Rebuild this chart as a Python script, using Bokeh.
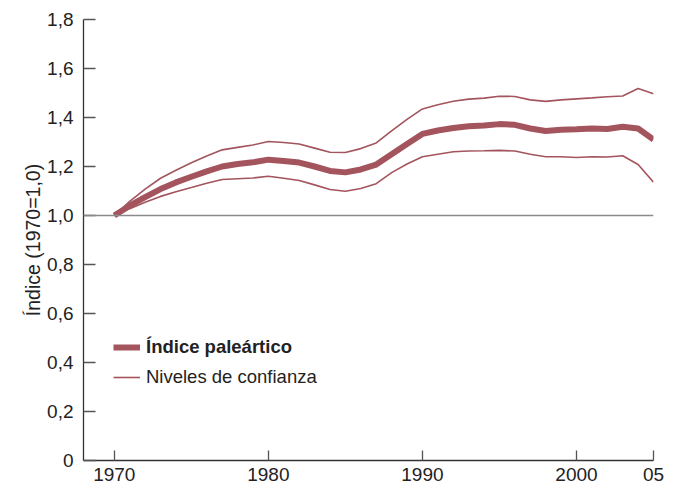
from bokeh.plotting import figure
from bokeh.models import ColumnDataSource, Legend, LegendItem, Span, FixedTicker, Range1d
from bokeh.embed import file_html
from bokeh.resources import INLINE

years = list(range(1970, 2006))
indice = [1.000, 1.040, 1.075, 1.108, 1.135, 1.158, 1.180, 1.200, 1.210, 1.217,
          1.228, 1.222, 1.216, 1.200, 1.182, 1.176, 1.188, 1.208, 1.250, 1.292,
          1.333, 1.347, 1.357, 1.364, 1.367, 1.373, 1.370, 1.355, 1.345, 1.350,
          1.352, 1.355, 1.353, 1.362, 1.355, 1.310]
superior = [1.000, 1.058, 1.108, 1.152, 1.185, 1.215, 1.243, 1.268, 1.278, 1.288,
            1.302, 1.298, 1.292, 1.275, 1.258, 1.257, 1.273, 1.296, 1.345, 1.392,
            1.435, 1.452, 1.466, 1.475, 1.479, 1.487, 1.486, 1.472, 1.466, 1.472,
            1.476, 1.480, 1.485, 1.488, 1.518, 1.497]
inferior = [1.000, 1.028, 1.054, 1.078, 1.097, 1.114, 1.132, 1.147, 1.150, 1.153,
            1.160, 1.152, 1.143, 1.125, 1.106, 1.099, 1.110, 1.130, 1.175, 1.210,
            1.240, 1.250, 1.260, 1.263, 1.264, 1.266, 1.263, 1.250, 1.240, 1.240,
            1.237, 1.240, 1.239, 1.244, 1.208, 1.136]

x_ticks = [1970, 1980, 1990, 2000, 2005]
x_labels = ["1970", "1980", "1990", "2000", "05"]
y_ticks = [0, 0.2, 0.4, 0.6, 0.8, 1.0, 1.2, 1.4, 1.6, 1.8]
y_labels = ["0", "0,2", "0,4", "0,6", "0,8", "1,0", "1,2", "1,4", "1,6", "1,8"]
base_value = 1.0

label_main = "Índice paleártico"
label_ci = "Niveles de confianza"
y_title = "Índice (1970=1,0)"

FONT = "Liberation Sans"
COL = "#A3545D"
TXT = "#222222"

src = ColumnDataSource(dict(year=years, main=indice, up=superior, lo=inferior))

p = figure(width=675, height=483, output_backend="svg", toolbar_location=None,
           x_range=Range1d(1968, 2005), y_range=Range1d(0, 1.8),
           min_border_left=83, min_border_right=22, min_border_top=19, min_border_bottom=22)
p.outline_line_color = None
p.grid.visible = False
p.background_fill_color = "white"

p.add_layout(Span(location=base_value, dimension="width", line_color="#8a8a8a", line_width=1.5))

r_up = p.line("year", "up", source=src, line_color=COL, line_width=1.6)
r_lo = p.line("year", "lo", source=src, line_color=COL, line_width=1.6)
r_main = p.line("year", "main", source=src, line_color=COL, line_width=6)

for ax in (p.xaxis[0], p.yaxis[0]):
    ax.axis_line_color = "#333333"
    ax.axis_line_width = 1.3
    ax.major_tick_line_color = "#555555"
    ax.major_tick_line_width = 1.3
    ax.major_tick_out = 0
    ax.minor_tick_line_color = None
    ax.major_label_text_font = FONT
    ax.major_label_text_font_size = "19px"
    ax.major_label_text_color = TXT

xa = p.xaxis[0]
xa.ticker = FixedTicker(ticks=x_ticks)
xa.major_label_overrides = {t: l for t, l in zip(x_ticks, x_labels)}
xa.major_tick_in = 10
xa.major_label_standoff = 7

ya = p.yaxis[0]
ya.ticker = FixedTicker(ticks=y_ticks)
ya.major_label_overrides = {t: l for t, l in zip(y_ticks, y_labels)}
ya.major_tick_in = 12
ya.major_label_standoff = 10
ya.axis_label = y_title
ya.axis_label_text_font = FONT
ya.axis_label_text_font_size = "19.5px"
ya.axis_label_text_font_style = "normal"
ya.axis_label_text_color = TXT
ya.axis_label_standoff = 0

def make_legend(label, rend, loc, style):
    lg = Legend(items=[LegendItem(label=label, renderers=[rend])], location=loc)
    lg.label_text_font = FONT
    lg.label_text_font_size = "18.5px"
    lg.label_text_font_style = style
    lg.label_text_color = TXT
    lg.border_line_color = None
    lg.background_fill_alpha = 0
    lg.padding = 0
    lg.margin = 0
    lg.glyph_width = 27
    lg.glyph_height = 20
    lg.label_height = 20
    lg.label_standoff = 6
    return lg

p.add_layout(make_legend(label_main, r_main, (30, 102), "bold"))
p.add_layout(make_legend(label_ci, r_up, (30, 72), "normal"))

open("out.html", "w").write(file_html(p, INLINE))
